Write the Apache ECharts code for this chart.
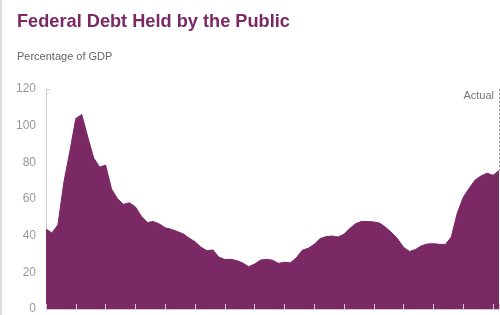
<!DOCTYPE html>
<html><head><meta charset="utf-8">
<script src="https://cdn.jsdelivr.net/npm/echarts@6/dist/echarts.min.js"></script>
<style>html,body{margin:0;padding:0;background:#fff;}#c{width:500px;height:315px;}</style>
</head><body><div id="c"></div>
<script>
const years = [];
for (let y = 1940; y <= 2016; y++) years.push(y);
const debt = [43.6,41.5,45.9,69.2,86.0,103.9,106.1,93.9,82.4,77.4,
              78.5,65.4,60.1,57.1,57.9,55.7,50.6,47.2,47.7,46.4,
              44.3,43.5,42.3,41.0,38.7,36.7,33.7,31.8,32.2,28.3,
              27.0,27.1,26.4,25.1,23.1,24.5,26.7,27.1,26.6,24.9,
              25.5,25.2,27.9,32.1,33.1,35.3,38.4,39.5,39.8,39.3,
              40.8,44.0,46.6,47.8,47.7,47.5,46.8,44.5,41.6,38.2,
              33.6,31.4,32.5,34.5,35.5,35.6,35.3,35.2,39.3,52.3,
              60.9,65.9,70.4,72.6,74.1,72.9,75.5];
const yTicks = [0,20,40,60,80,100,120];
const actualYear = 2016;
const purple = '#7b2965';

const chart = echarts.init(document.getElementById('c'), null, {renderer:'canvas'});
chart.setOption({
  animation:false,
  backgroundColor:'#fff',
  title:[
    {text:'Federal Debt Held by the Public', left:17, top:13, padding:0,
     textStyle:{fontFamily:'Liberation Sans, sans-serif', fontWeight:'bold', fontSize:18.2, color:purple}},
    {text:'Percentage of GDP', left:17, top:51, padding:0,
     textStyle:{fontFamily:'Liberation Sans, sans-serif', fontWeight:'normal', fontSize:11, color:'#666'}},
    {text:'Actual', right:6, top:90, padding:0,
     textStyle:{fontFamily:'Liberation Sans, sans-serif', fontWeight:'normal', fontSize:11, color:'#777'}}
  ],
  graphic:[{type:'rect', shape:{x:0,y:0,width:2,height:315}, style:{fill:'#dedede'}}],
  grid:{left:46, right:1, top:89, bottom:3},
  xAxis:{type:'value', min:1940, max:2016, interval:5, z:10,
    axisLine:{show:true, lineStyle:{color:'#ccc', width:1}},
    axisTick:{show:true, inside:true, length:5, lineStyle:{color:'#d9c4d3', width:1}},
    axisLabel:{show:false}, splitLine:{show:false}},
  yAxis:[{type:'value', min:0, max:120, interval:20,
    axisLine:{show:true, lineStyle:{color:'#ccc', width:1}},
    axisTick:{show:false},
    axisLabel:{margin:10, color:'#999', fontSize:12, fontFamily:'Liberation Sans, sans-serif',
      formatter:v=>yTicks.includes(v)?String(v):''},
    splitLine:{show:false}},
   {type:'value', min:0, max:120, interval:120, position:'left', offset:0,
    axisLine:{show:false}, axisLabel:{show:false}, splitLine:{show:false},
    axisTick:{show:true, inside:true, length:4, lineStyle:{color:'#ccc', width:1}}}],
  series:[{
    type:'line', data:years.map((y,i)=>[y,debt[i]]), symbol:'none',
    lineStyle:{color:purple, width:1}, areaStyle:{color:purple, opacity:1},
    markLine:{silent:true, symbol:'none',
      lineStyle:{color:'#888', type:[2,2], width:1},
      label:{show:false},
      data:[[{coord:[actualYear,120]},{coord:[actualYear,debt[debt.length-1]]}]]}
  }]
});
</script></body></html>
